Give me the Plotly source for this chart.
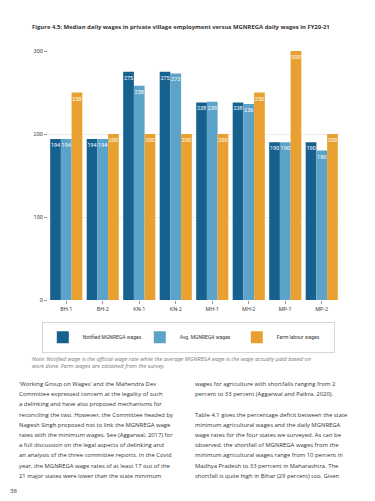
import plotly.graph_objects as go

categories = ["BH-1", "BH-2", "KN-1", "KN-2", "MH-1", "MH-2", "MP-1", "MP-2"]
notified = [194, 194, 275, 275, 238, 238, 190, 190]
avg_mgnrega = [194, 194, 258, 273, 239, 236, 190, 180]
farm = [250, 200, 200, 200, 200, 250, 300, 200]
series_names = ["Notified MGNREGA wages", "Avg. MGNREGA wages", "Farm labour wages"]
colors = ["#17618F", "#5BA3C9", "#E8A131"]

title_text = "Figure 4.5: Median daily wages in private village employment versus MGNREGA daily wages in FY20-21"
note_lines = [
    "Note: Notified wage is the official wage rate while the average MGNREGA wage is the wage actually paid based on",
    "work done. Farm wages are obtained from the survey.",
]
left_col = [
    "'Working Group on Wages' and the Mahendra Dev",
    "Committee expressed concern at the legality of such",
    "a delinking and have also proposed mechanisms for",
    "reconciling the two. However, the Committee headed by",
    "Nagesh Singh proposed not to link the MGNREGA wage",
    "rates with the minimum wages. See (Aggarwal, 2017) for",
    "a full discussion on the legal aspects of delinking and",
    "an analysis of the three committee reports. In the Covid",
    "year, the MGNREGA wage rates of at least 17 out of the",
    "21 major states were lower than the state minimum",
]
right_col = [
    "wages for agriculture with shortfalls ranging from 2",
    "percent to 33 percent (Aggarwal and Paikra, 2020).",
    "",
    "Table 4.1 gives the percentage deficit between the state",
    "minimum agricultural wages and the daily MGNREGA",
    "wage rates for the four states we surveyed. As can be",
    "observed, the shortfall of MGNREGA wages from the",
    "minimum agricultural wages range from 10 percent in",
    "Madhya Pradesh to 33 perrcent in Maharashtra. The",
    "shortfall is quite high in Bihar (29 percent) too. Given",
]
page_number = "38"

OFF = 8  # default page body margin
W, H = 375 - OFF, 501 - OFF
ML, MT = 48 - OFF, 51 - OFF
MR = W - (340 - OFF)
MB = H - (300 - OFF)
PW = W - ML - MR
PH = H - MT - MB


def px(x):
    return (x - OFF - ML) / PW


def py(y):
    return (H - MB - (y - OFF)) / PH


fig = go.Figure()
for name, vals, c in zip(series_names, [notified, avg_mgnrega, farm], colors):
    fig.add_trace(go.Bar(
        x=categories, y=vals, name=name, marker=dict(color=c, line=dict(width=0)),
        text=[str(v) for v in vals], textposition="inside", insidetextanchor="end",
        textangle=0, textfont=dict(color="white", size=5.5, family="Roboto"),
        cliponaxis=False,
    ))

annotations = [
    dict(text="<b>" + title_text + "</b>", x=px(30), y=py(27), xref="paper", yref="paper",
         xanchor="left", yanchor="middle", showarrow=False,
         font=dict(family="Open Sans", size=5.9, color="#333333")),
]
for i, line in enumerate(note_lines):
    annotations.append(dict(text="<i>" + line + "</i>", x=px(30), y=py(359 + i * 7.3),
                            xref="paper", yref="paper", xanchor="left", yanchor="middle",
                            showarrow=False, font=dict(family="Open Sans", size=5.6, color="#777777")))
for col, x0 in [(left_col, 17), (right_col, 193)]:
    for i, line in enumerate(col):
        if not line:
            continue
        annotations.append(dict(text=line, x=px(x0), y=py(384 + i * 10.2),
                                xref="paper", yref="paper", xanchor="left", yanchor="middle",
                                showarrow=False, font=dict(family="Open Sans", size=5.9, color="#333333")))
annotations.append(dict(text=page_number, x=px(8.5), y=py(491), xref="paper", yref="paper",
                        xanchor="left", yanchor="middle", showarrow=False,
                        font=dict(family="Open Sans", size=6, color="#333333")))

fig.update_layout(
    width=W, height=H,
    margin=dict(l=ML, r=MR, t=MT, b=MB, pad=0),
    paper_bgcolor="white", plot_bgcolor="white",
    barmode="group", bargap=0.12, bargroupgap=0,
    uniformtext=dict(minsize=5.5, mode="show"),
    showlegend=True,
    legend=dict(orientation="h", x=px(42), y=py(322), xanchor="left", yanchor="top",
                bordercolor="#cccccc", borderwidth=0.8, bgcolor="white",
                font=dict(family="Roboto", size=5, color="#333333"),
                entrywidth=52, entrywidthmode="pixels", itemwidth=30,
                traceorder="normal"),
    annotations=annotations,
    xaxis=dict(showgrid=False, ticks="outside", ticklen=3, tickcolor="#999999",
               tickfont=dict(family="Roboto", size=5.5, color="#444444"),
               showline=False, zeroline=False, fixedrange=True),
    yaxis=dict(range=[0, 300], tickvals=[0, 100, 200, 300], showgrid=True,
               gridcolor="#eeeeee", gridwidth=1, ticks="outside", ticklen=3,
               tickcolor="#999999", tickfont=dict(family="Roboto", size=5.5, color="#444444"),
               zeroline=False, showline=False, fixedrange=True),
)

fig.write_html("out.html")
